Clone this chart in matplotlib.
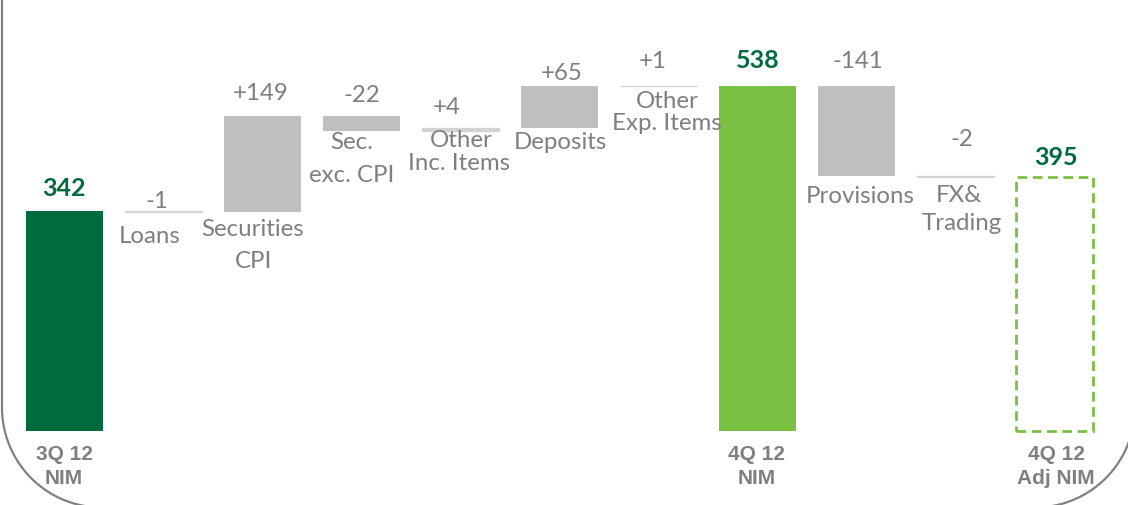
import matplotlib
matplotlib.use("Agg")
import matplotlib.pyplot as plt
from matplotlib.patches import Rectangle, PathPatch
from matplotlib.path import Path
import numpy as np

# ---------------- data ----------------
categories = ["3Q 12\nNIM", "Loans", "Securities\nCPI", "Sec.\nexc. CPI", "Other\nInc. Items",
              "Deposits", "Other\nExp. Items", "4Q 12\nNIM", "Provisions", "FX&\nTrading",
              "4Q 12\nAdj NIM"]
kinds = ["total", "delta", "delta", "delta", "delta", "delta", "delta", "total", "delta", "delta", "adj"]
values = [342, -1, 149, -22, 4, 65, 1, 538, -141, -2, 395]
value_labels = ["342", "-1", "+149", "-22", "+4", "+65", "+1", "538", "-141", "-2", "395"]

# ---------------- style ----------------
W, H, DPI = 1128, 506, 100
DARK_GREEN = "#006B3F"
LIGHT_GREEN = "#7AC143"
GRAY_BAR = "#BFBFBF"
THIN_BAR = "#D3D3D3"
TEXT_GRAY = "#7F7F7F"
LABEL_FONT = "Lato"
BOLD_FONT = "Liberation Sans"
LABEL_SIZE = 17.3

fig = plt.figure(figsize=(W / DPI, H / DPI), dpi=DPI)
fig.patch.set_facecolor("white")

# axes spanning the whole figure; x pixel = 64.5 + 99*i, baseline at y pixel 432
px_per_unit = 0.642
x0_px, step_px, base_px = 64.5, 99.0, 432.0
ax = fig.add_axes([0, 0, 1, 1])
ax.set_xlim(-x0_px / step_px, (W - x0_px) / step_px)
ax.set_ylim(-(H - base_px) / px_per_unit, base_px / px_per_unit)
ax.axis("off")

width = 77 / step_px

# waterfall geometry
running = 0
for i, (k, v) in enumerate(zip(kinds, values)):
    if k == "total":
        ax.bar(i, v, width=width, bottom=0, color=DARK_GREEN if i == 0 else LIGHT_GREEN,
               linewidth=0)
        running = v
    elif k == "adj":
        ax.add_patch(Rectangle((i - width / 2, 0), width, v, fill=False,
                               edgecolor=LIGHT_GREEN, linewidth=2.0,
                               linestyle=(0, (3.5, 2.0))))
    else:
        lo, hi = min(running, running + v), max(running, running + v)
        if abs(v) <= 5:
            ax.bar(i, hi - lo, width=width, bottom=lo, color=THIN_BAR,
                   edgecolor=THIN_BAR, linewidth=0.9)
        else:
            ax.bar(i, hi - lo, width=width, bottom=lo, color=GRAY_BAR, linewidth=0)
        running += v

# ---------------- text layout (pixel positions, from top-left) ----------------
def px_text(x, y, s, **kw):
    fig.text(x / W, 1 - y / H, s, ha="center", va="center", **kw)

# value labels: (x center px, y center px)
value_pos = [(64, 188), (157, 202), (261, 93), (362, 95), (447, 107), (562, 74),
             (653, 62), (758, 61), (858, 62), (962, 140), (1056, 158)]
for k, lab, (x, y) in zip(kinds, value_labels, value_pos):
    if k in ("total", "adj"):
        px_text(x, y, lab, family=LABEL_FONT, fontweight="bold", fontsize=18, color=DARK_GREEN)
    else:
        px_text(x, y, lab, family=LABEL_FONT, fontsize=LABEL_SIZE, color=TEXT_GRAY)

# category labels: list of line positions per category
cat_pos = [
    [(64, 454), (64, 479)],
    [(150, 237)],
    [(253, 230), (254, 261)],
    [(352, 143), (352, 175)],
    [(461, 141), (459, 164)],
    [(560, 143)],
    [(667, 102), (667, 124)],
    [(757, 454), (757, 479)],
    [(860, 197)],
    [(959, 195), (962, 224)],
    [(1056, 454), (1056, 479)],
]
for k, cat, pos in zip(kinds, categories, cat_pos):
    lines = cat.split("\n")
    for line, (x, y) in zip(lines, pos):
        if k in ("total", "adj"):
            px_text(x, y, line, family=BOLD_FONT, fontweight="bold", fontsize=15, color=TEXT_GRAY)
        else:
            px_text(x, y, line, family=LABEL_FONT, fontsize=LABEL_SIZE, color=TEXT_GRAY)

# ---------------- rounded frame ----------------
def frame_path(points):
    return [(x / W, 1 - y / H) for x, y in points]

r = 100.0
t = np.linspace(np.pi, 1.5 * np.pi, 60)
left_pts = [(2.0, -5.0)] + [(2.0 + r + r * np.cos(a), 408.5 - r * np.sin(a)) for a in t]
left_pts.append((600.0, 508.5))
right_t = np.linspace(1.5 * np.pi, 2 * np.pi, 60)
right_pts = [(600.0, 508.5)] + [(1035.0 + r * np.cos(a), 408.5 - r * np.sin(a)) for a in right_t]
right_pts.append((1135.0, -5.0))
pts = left_pts + right_pts[1:]
verts = frame_path(pts)
codes = [Path.MOVETO] + [Path.LINETO] * (len(verts) - 1)
fig.patches.append(PathPatch(Path(verts, codes), fill=False, edgecolor="#808080",
                             linewidth=1.6, transform=fig.transFigure, figure=fig))

fig.savefig("out.png", dpi=DPI, facecolor="white")
